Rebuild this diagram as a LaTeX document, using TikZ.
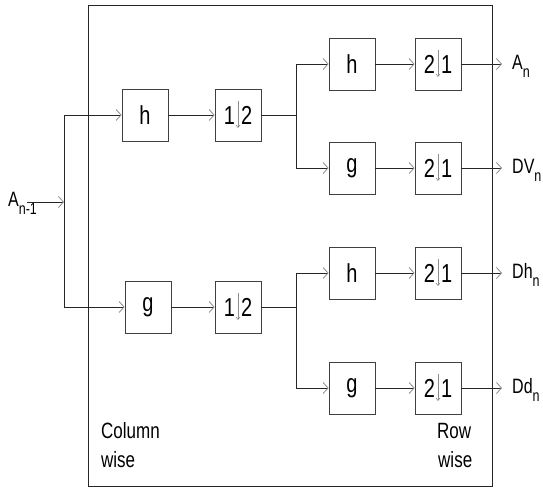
\documentclass[tikz,border=0pt]{standalone}
\usepackage{fontspec}
\setmainfont{Liberation Sans}
\usepackage{graphicx}
\usetikzlibrary{arrows.meta, positioning}

\newcommand{\tall}[1]{\scalebox{1}[1.3]{#1}}
\newcommand{\lab}[2]{\tall{#1\raisebox{-6pt}{\fontsize{12.5}{13}\selectfont #2}}}

\begin{document}
\begin{tikzpicture}[
    x=1pt, y=-1pt,
    blk/.style={rectangle, draw=black!75, line width=0.8pt, minimum width=46pt, minimum height=52pt, inner sep=0pt, font=\fontsize{20}{24}\selectfont},
    outlab/.style={anchor=west, inner sep=0pt, font=\fontsize{16}{18}\selectfont},
    note/.style={anchor=base west, inner sep=0pt, font=\fontsize{17}{20}\selectfont},
    sig/.style={draw=black!85, line width=0.8pt, -{Straight Barb[length=5pt, width=11pt, color=black!45]}},
    wire/.style={draw=black!85, line width=0.8pt},
    bar/.style={draw=black!45, line width=0.6pt, -{Straight Barb[length=2.5pt, width=4pt]}}
]
    \useasboundingbox (0,0) rectangle (543,488);
    \draw [black!85, line width=0.9pt] (88,5) rectangle (492,486);

    % column stage
    \node [outlab] (in) at (8,203) {\lab{A}{n-1}};
    \coordinate (src) at (27,202);
    \coordinate (j0) at (64,202);
    \node [blk] (h1) at (145,115) {\tall{h}};
    \node [blk] (g1) at (148,307) {\tall{g}};
    \node [blk] (c1) at (238,115) {\tall{1\hspace{6pt}2}};
    \node [blk] (c2) at (238,307) {\tall{1\hspace{6pt}2}};

    % row stage
    \coordinate (ja) at (296,115);
    \coordinate (jb) at (296,307);
    \node [blk] (h2) at (352,64) {\tall{h}};
    \node [blk] (g2) at (352,168) {\tall{g}};
    \node [blk] (h3) at (352,273) {\tall{h}};
    \node [blk] (g3) at (352,388) {\tall{g}};
    \node [blk] (r1) at (438,64) {\tall{2\hspace{6pt}1}};
    \node [blk] (r2) at (438,168) {\tall{2\hspace{6pt}1}};
    \node [blk] (r3) at (438,273) {\tall{2\hspace{6pt}1}};
    \node [blk] (r4) at (438,388) {\tall{2\hspace{6pt}1}};

    \node [outlab] (o1) at (512,66) {\lab{A}{n}};
    \node [outlab] (o2) at (512,170) {\lab{DV}{n}};
    \node [outlab] (o3) at (512,275) {\lab{Dh}{n}};
    \node [outlab] (o4) at (512,390) {\lab{Dd}{n}};

    \node [note] (cw1) at (101,438) {\tall{Column}};
    \node [note] (cw2) at (101,467) {\tall{wise}};
    \node [note] (rw1) at (437,438) {\tall{Row}};
    \node [note] (rw2) at (438,467) {\tall{wise}};

    \foreach \d in {c1,c2,r1,r2,r3,r4}
        \path [bar] ([yshift=14pt]\d.center) -- ([yshift=-13pt]\d.center);

    \path [sig] (src) -- (j0);
    \path [sig] (j0) |- (h1);
    \path [sig] (j0) |- (g1);
    \path [sig] (h1) -- (c1);
    \path [sig] (g1) -- (c2);
    \path [wire] (c1) -- (ja);
    \path [wire] (c2) -- (jb);
    \path [sig] (ja) |- (h2);
    \path [sig] (ja) |- (g2);
    \path [sig] (jb) |- (h3);
    \path [sig] (jb) |- (g3);
    \path [sig] (h2) -- (r1);
    \path [sig] (g2) -- (r2);
    \path [sig] (h3) -- (r3);
    \path [sig] (g3) -- (r4);
    \path [sig, shorten >=10pt] (r1) -- (r1 -| o1.west);
    \path [sig, shorten >=10pt] (r2) -- (r2 -| o2.west);
    \path [sig, shorten >=10pt] (r3) -- (r3 -| o3.west);
    \path [sig, shorten >=10pt] (r4) -- (r4 -| o4.west);
\end{tikzpicture}
\end{document}
